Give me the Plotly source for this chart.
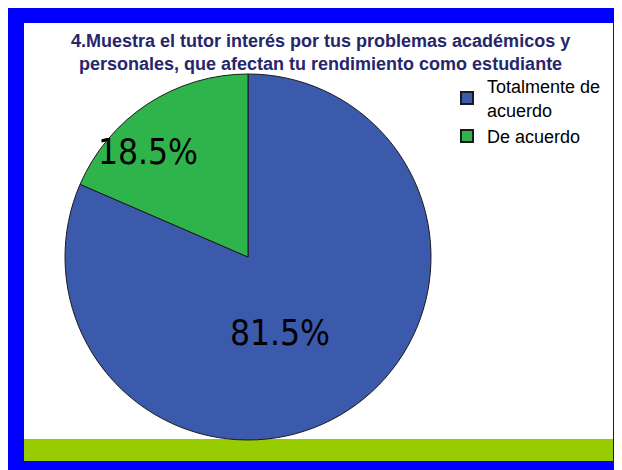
import plotly.graph_objects as go

labels = ["Totalmente de<br>acuerdo", "De acuerdo"]
values = [81.5, 18.5]
colors = ["#3C5AAB", "#2FB44B"]
title_text = ("<b>4.Muestra el tutor interés por tus problemas académicos y<br>"
              "personales, que afectan tu rendimiento como estudiante</b>")

# the page body adds an 8px offset; figure covers page pixels 8..622 x 8..470
OFF = 8
W, H = 614, 462


def px(x):
    return (x - OFF) / W


def py(y):
    return 1 - (y - OFF) / H


R = 183
CX, CY = 248, 257

fig = go.Figure()
fig.add_trace(go.Pie(
    labels=labels,
    values=values,
    sort=False,
    direction="clockwise",
    rotation=0,
    marker=dict(colors=colors, line=dict(color="#1a1a1a", width=1)),
    textinfo="none",
    domain=dict(x=[px(CX - R), px(CX + R)], y=[py(CY + R), py(CY - R)]),
    hoverinfo="label+percent",
))

shapes = [
    dict(type="rect", xref="paper", yref="paper", x0=px(24), x1=px(613), y0=py(461), y1=py(23),
         fillcolor="white", line=dict(width=0), layer="below"),
    dict(type="rect", xref="paper", yref="paper", x0=px(24), x1=px(613), y0=py(461), y1=py(439),
         fillcolor="#99CC00", line=dict(width=0), layer="below"),
]

label_pos = [(280, 333), (148, 152)]
annotations = [
    dict(text=f"{v:.1f}%", x=px(x), y=py(y), xref="paper", yref="paper", showarrow=False,
         xanchor="center", yanchor="middle",
         font=dict(family="DejaVu Sans Condensed, Liberation Sans Narrow, Arial Narrow, sans-serif",
                   size=35, color="black"))
    for v, (x, y) in zip(values, label_pos)
]
annotations.append(dict(text=title_text, x=px(320), y=py(52), xref="paper", yref="paper",
                        showarrow=False, xanchor="center", yanchor="middle",
                        font=dict(family="Arial, Liberation Sans, sans-serif", size=18,
                                  color="#26266A")))

fig.update_layout(
    width=W, height=H,
    margin=dict(l=0, r=0, t=0, b=0),
    paper_bgcolor="#0000FF",
    plot_bgcolor="white",
    shapes=shapes,
    annotations=annotations,
    legend=dict(x=px(447), y=py(68), xanchor="left", yanchor="top",
                font=dict(family="Arial, Liberation Sans, sans-serif", size=18, color="black"),
                bgcolor="rgba(0,0,0,0)", itemsizing="constant", tracegroupgap=0),
    showlegend=True,
)

fig.write_html("out.html")
